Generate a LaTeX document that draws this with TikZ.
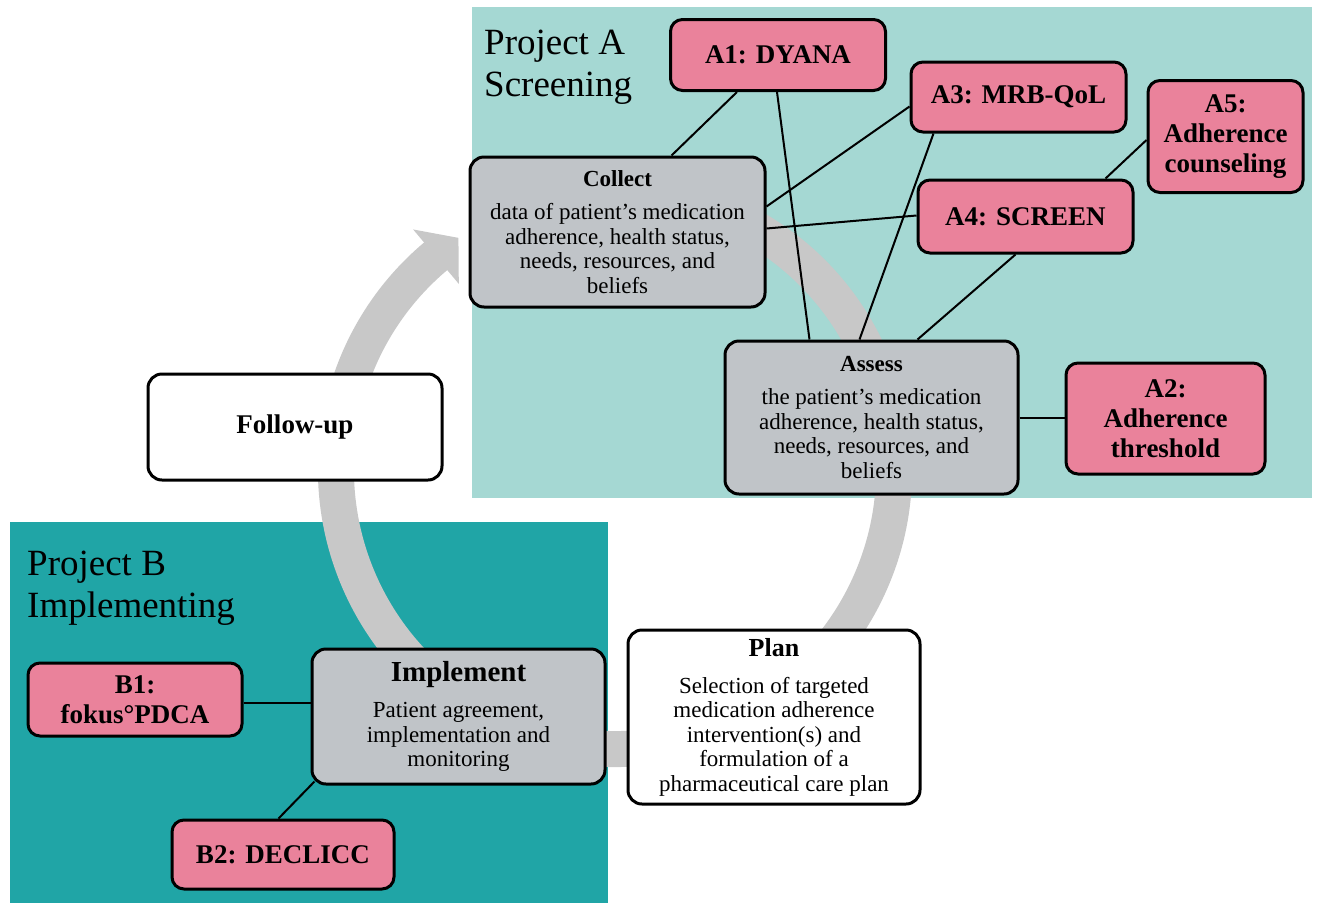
\documentclass[tikz,border=0pt]{standalone}
\usepackage{fontspec}
\setmainfont{Liberation Serif}
\usetikzlibrary{calc}
\definecolor{screenteal}{HTML}{A5D8D3}
\definecolor{implteal}{HTML}{20A5A6}
\definecolor{toolpink}{HTML}{EA829B}
\definecolor{phasegrey}{HTML}{C0C4C8}
\definecolor{cyclegrey}{HTML}{C8C8C8}
\pgfdeclarelayer{back}
\pgfdeclarelayer{links}
\pgfsetlayers{back,links,main}

\begin{document}
\begin{tikzpicture}[x=1pt,y=-1pt,
  box/.style={draw=black, line width=3pt, rounded corners=14pt, align=center, inner sep=0pt},
  phase/.style={box, fill=phasegrey, font=\fontsize{23}{24.5}\selectfont},
  cyclestep/.style={box, fill=white, font=\fontsize{23}{24.5}\selectfont},
  tool/.style={box, fill=toolpink, rounded corners=12pt, font=\bfseries\fontsize{27}{30}\selectfont},
  link/.style={line width=2pt, draw=black},
  areatitle/.style={anchor=north west, align=left, inner sep=0pt, font=\fontsize{37}{42}\selectfont},
]
\useasboundingbox (0,0) rectangle (1318,903);

\begin{pgfonlayer}{back}
  \fill[white] (0,0) rectangle (1318,903);
  % project areas
  \fill[screenteal] (472,7) rectangle (1312,498);
  \fill[implteal] (10,522) rectangle (608,903);
  % care cycle ring with its arrowhead
  \coordinate (C) at (615,470);
  \draw[cyclegrey, line width=36pt] ($(C)+(-65:279)$) arc[start angle=-65, end angle=230.5, radius=279];
  \fill[cyclegrey] ($(C)+(230:314)$) -- ($(C)+(236:280)$) -- ($(C)+(230:243)$) -- cycle;
\end{pgfonlayer}

% area titles
\node[areatitle] (titleA) at (484,30) {Project A\\Screening};
\node[areatitle] (titleB) at (27,551) {Project B\\Implementing};

% phases of the cycle
\node[phase, minimum width=295pt, minimum height=150pt] (collect) at (617.5,232)
  {{\bfseries Collect}\\[8.5pt]data of patient’s medication\\adherence, health status,\\needs, resources, and\\beliefs};
\node[phase, minimum width=293pt, minimum height=153pt] (assess) at (871.5,417.5)
  {{\bfseries Assess}\\[8.5pt]the patient’s medication\\adherence, health status,\\needs, resources, and\\beliefs};
\node[phase, minimum width=293pt, minimum height=135pt] (implement) at (458.5,716.5)
  {{\bfseries\fontsize{29}{30}\selectfont Implement}\\[11.5pt]Patient agreement,\\implementation and\\monitoring};
\node[cyclestep, minimum width=292pt, minimum height=174pt] (plan) at (774,717)
  {{\bfseries\fontsize{26}{27}\selectfont Plan}\\[12.5pt]Selection of targeted\\medication adherence\\intervention(s) and\\formulation of a\\pharmaceutical care plan};
\node[cyclestep, minimum width=294pt, minimum height=106pt, font=\bfseries\fontsize{27}{30}\selectfont] (followup) at (295,427) {Follow-up};

% tools of the projects
\node[tool, minimum width=215pt, minimum height=71pt] (A1) at (778,55) {A1: DYANA};
\node[tool, minimum width=215pt, minimum height=70pt] (A3) at (1018.5,97) {A3: MRB-QoL};
\node[tool, minimum width=155pt, minimum height=112pt] (A5) at (1225.5,136.5) {A5:\\Adherence\\counseling};
\node[tool, minimum width=215pt, minimum height=73pt] (A4) at (1025.5,216.5) {A4: SCREEN};
\node[tool, minimum width=199pt, minimum height=111pt] (A2) at (1165.5,418.5) {A2:\\Adherence\\threshold};
\node[tool, minimum width=214pt, minimum height=73pt] (B1) at (135,699.5) {B1:\\fokus°PDCA};
\node[tool, minimum width=222pt, minimum height=69pt] (B2) at (283,854.5) {B2: DECLICC};

% connectors between tools and phases
\begin{pgfonlayer}{links}
  \draw[link] ($(A1.south west)+(68,0)$) -- ($(collect.north west)+(203,0)$);
  \draw[link] ($(A1.south west)+(108,0)$) -- ($(assess.north west)+(86,0)$);
  \draw[link] ($(A3.north west)+(0,46)$) -- ($(collect.north east)+(0,51)$);
  \draw[link] ($(A4.north west)+(0,37)$) -- ($(collect.north east)+(0,73)$);
  \draw[link] ($(A3.south west)+(24,0)$) -- ($(assess.north west)+(136,0)$);
  \draw[link] ($(A4.south west)+(99,0)$) -- ($(assess.north west)+(194,0)$);
  \draw[link] ($(A5.north west)+(0,61)$) -- ($(A4.north west)+(189,0)$);
  \draw[link] (assess.east) -- (assess.east -| A2.west);
  \coordinate (b1out) at ($(B1.east)+(0,3)$);
  \draw[link] (b1out) -- (b1out -| implement.west);
  \draw[link] ($(implement.south west)+(4,-4)$) -- ($(B2.north west)+(108,0)$);
\end{pgfonlayer}
\end{tikzpicture}
\end{document}
